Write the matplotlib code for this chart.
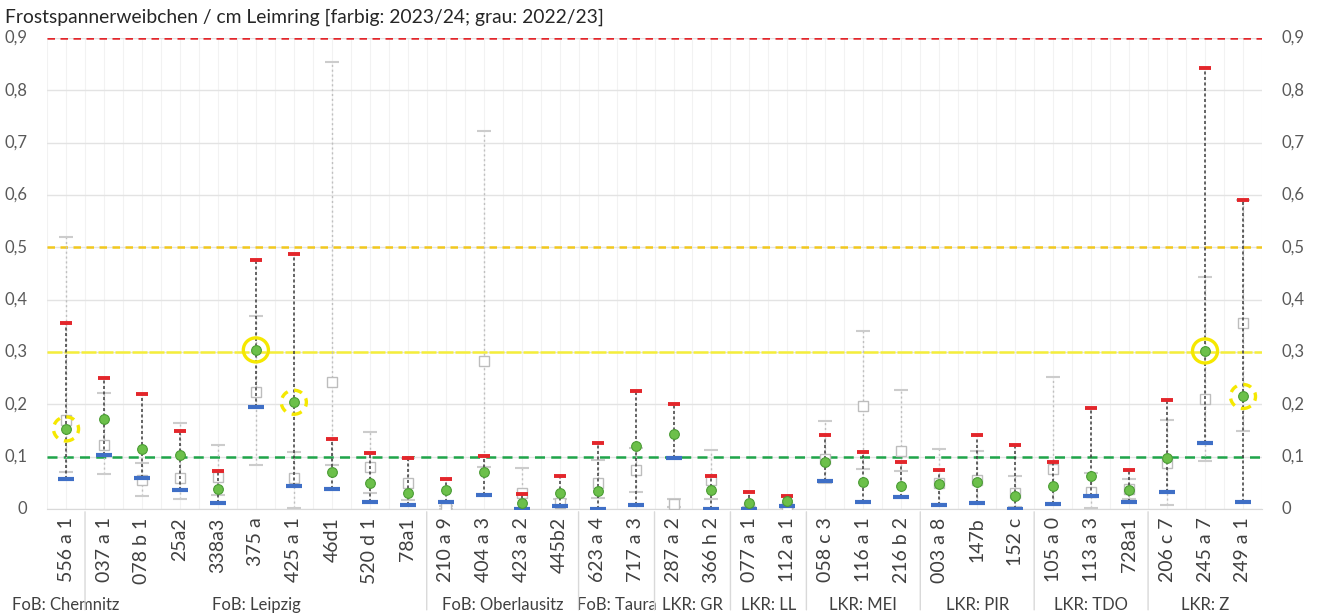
import numpy as np
import matplotlib.pyplot as plt
from matplotlib.ticker import FuncFormatter, MultipleLocator
from matplotlib.patches import Ellipse

# -*- coding: UTF-8 -*-

plt.rcParams['font.family'] = ['Lato', 'DejaVu Sans']

# Frostspanner data per Revier (colored: 2023/24, gray: 2022/23)
cats = ["556 a 1", "037 a 1", "078 b 1", "25a2", "338a3", "375 a", "425 a 1", "46d1",
        "520 d 1", "78a1", "210 a 9", "404 a 3", "423 a 2", "445b2", "623 a 4", "717 a 3",
        "287 a 2", "366 h 2", "077 a 1", "112 a 1", "058 c 3", "116 a 1", "216 b 2",
        "003 a 8", "147b", "152 c", "105 a 0", "113 a 3", "728a1", "206 c 7", "245 a 7",
        "249 a 1"]
groups = ["FoB: Chemnitz", "FoB: Leipzig", "FoB: Oberlausitz", "FoB: Taura", "LKR: GR",
          "LKR: LL", "LKR: MEI", "LKR: PIR", "LKR: TDO", "LKR: Z"]
group_sizes = [1, 9, 4, 2, 2, 2, 3, 3, 3, 3]

max_24 = [0.356, 0.251, 0.220, 0.150, 0.073, 0.476, 0.487, 0.133, 0.107, 0.098,
          0.058, 0.101, 0.028, 0.063, 0.126, 0.226, 0.200, 0.063, 0.032, 0.025,
          0.141, 0.109, 0.089, 0.075, 0.141, 0.122, 0.090, 0.193, 0.075, 0.208,
          0.843, 0.590]
min_24 = [0.058, 0.103, 0.059, 0.036, 0.012, 0.194, 0.043, 0.038, 0.013, 0.007,
          0.013, 0.027, 0.000, 0.006, 0.000, 0.007, 0.098, 0.000, 0.000, 0.006,
          0.054, 0.013, 0.022, 0.007, 0.012, 0.000, 0.009, 0.025, 0.013, 0.032,
          0.127, 0.014]
mean_24 = [0.153, 0.172, 0.115, 0.103, 0.039, 0.304, 0.204, 0.071, 0.050, 0.031,
           0.036, 0.070, 0.011, 0.031, 0.035, 0.121, 0.144, 0.037, 0.011, 0.016,
           0.090, 0.051, 0.044, 0.047, 0.052, 0.024, 0.044, 0.063, 0.036, 0.097,
           0.302, 0.215]

max_23 = [0.519, 0.222, 0.088, 0.165, 0.122, 0.369, 0.108, 0.854, 0.147, 0.097,
          0.005, 0.722, 0.079, 0.019, 0.094, 0.116, 0.019, 0.113, 0.004, 0.006,
          0.169, 0.341, 0.227, 0.114, 0.110, 0.063, 0.253, 0.068, 0.057, 0.171,
          0.444, 0.590]
min_23 = [0.071, 0.066, 0.025, 0.020, 0.027, 0.085, 0.001, 0.084, 0.031, 0.017,
          0.000, 0.081, 0.000, 0.005, 0.021, 0.033, 0.004, 0.019, 0.000, 0.002,
          0.049, 0.076, 0.073, 0.010, 0.012, 0.004, 0.009, 0.002, 0.020, 0.008,
          0.092, 0.149]
mean_23 = [0.170, 0.122, 0.055, 0.059, 0.062, 0.224, 0.059, 0.242, 0.081, 0.049,
           0.002, 0.283, 0.030, 0.012, 0.050, 0.075, 0.010, 0.055, 0.002, 0.004,
           0.095, 0.196, 0.110, 0.050, 0.055, 0.030, 0.076, 0.032, 0.038, 0.087,
           0.211, 0.355]

# highlighted Reviere (yellow rings)
ring_solid = ["375 a", "245 a 7"]
ring_dashed = ["556 a 1", "425 a 1", "249 a 1"]

thresholds = [0.9, 0.5, 0.3, 0.1]
threshold_colors = ['#e3262b', '#f2c81e', '#f5ee3a', '#1fa54a']
threshold_dashes = [(3, 2.2), (3, 2.2), (6, 0.8), (4, 2.5)]

gray = '#bfbfbf'
fmt = FuncFormatter(lambda v, p: '0' if abs(v) < 1e-9 else '{:.1f}'.format(v).replace('.', ','))

fig = plt.figure(figsize=(13.22, 6.16), dpi=100)
ax = fig.add_axes([0.0356, 0.1737, 0.919, 0.7646])
x = np.arange(len(cats))

ax.set_xlim(-0.5, len(cats) - 0.5)
ax.set_ylim(0, 0.9)

# grid
ax.yaxis.set_major_locator(MultipleLocator(0.1))
ax.grid(axis='y', color='#e3e3e3', lw=1.0, zorder=0)
for xv in np.arange(-0.5, len(cats), 0.5):
    ax.axvline(xv, color='#f2f2f2', lw=0.8, zorder=0)

# threshold lines
for val, col, ds in zip(thresholds, threshold_colors, threshold_dashes):
    ax.axhline(val, color=col, lw=1.8, dashes=ds, zorder=2)

# 2022/23 in gray
ax.vlines(x, min_23, max_23, colors=gray, linestyles=(0, (1.5, 2)), lw=1.0, zorder=3)
ax.plot(x, max_23, ls='none', marker='_', ms=10, mew=1.5, color='#cccccc', zorder=3)
ax.plot(x, min_23, ls='none', marker='_', ms=10, mew=1.5, color='#cccccc', zorder=3)
ax.plot(x, mean_23, ls='none', marker='s', ms=7, mfc='white', mec='#bdbdbd', mew=1.0, zorder=3)

# 2023/24 in color
ax.vlines(x, min_24, max_24, colors='#3c3c3c', linestyles=(0, (2, 1.6)), lw=1.1, zorder=4)
ax.plot(x, max_24, ls='none', marker='_', ms=8, mew=2.8, color='#e3262b', zorder=5)
ax.plot(x, min_24, ls='none', marker='_', ms=11, mew=3, color='#3f6fc6', zorder=5)
ax.plot(x, mean_24, ls='none', marker='o', ms=7, mfc='#6cc04a', mec='#4a9c34', mew=0.8, zorder=6)

# yellow rings
for name in ring_solid + ring_dashed:
    i = cats.index(name)
    ls = '-' if name in ring_solid else (0, (2.5, 2))
    ring = Ellipse((i, mean_24[i]), 0.66, 0.046, fill=False, ec='#f5e800',
                   lw=2.4, ls=ls, zorder=7)
    ax.add_patch(ring)

# axes look
for s in ['top', 'right', 'left']:
    ax.spines[s].set_visible(False)
ax.spines['bottom'].set_color('#d9d9d9')
ax.yaxis.set_major_formatter(fmt)
ax.tick_params(axis='y', length=0, labelsize=12, labelcolor='#595959', pad=14,
               labelright=True)
ax.set_xticks(x)
ax.set_xticklabels(cats, rotation=90, fontsize=14, color='#404040')
ax.tick_params(axis='x', length=0, pad=6)
for lab in ax.get_yticklabels():
    lab.set_verticalalignment('center')

# group separators and group labels
start = 0
for name, n in zip(groups, group_sizes):
    center = start + (n - 1) / 2
    ax.annotate(name, xy=(center, 0), xycoords=('data', 'axes fraction'),
                xytext=(0, -69), textcoords='offset points', ha='center', va='center',
                fontsize=12, color='#404040', annotation_clip=False)
    if start > 0:
        ax.annotate('', xy=(start - 0.5, 0), xycoords=('data', 'axes fraction'),
                    xytext=(start - 0.5, -0.22), textcoords=('data', 'axes fraction'),
                    arrowprops=dict(arrowstyle='-', color='#d9d9d9', lw=1),
                    annotation_clip=False)
    start += n

fig.text(0.004, 0.972, "Frostspannerweibchen / cm Leimring [farbig: 2023/24; grau: 2022/23]",
         fontsize=13.9, color='#262626', ha='left', va='center')

plt.savefig('out.png', dpi=100)
